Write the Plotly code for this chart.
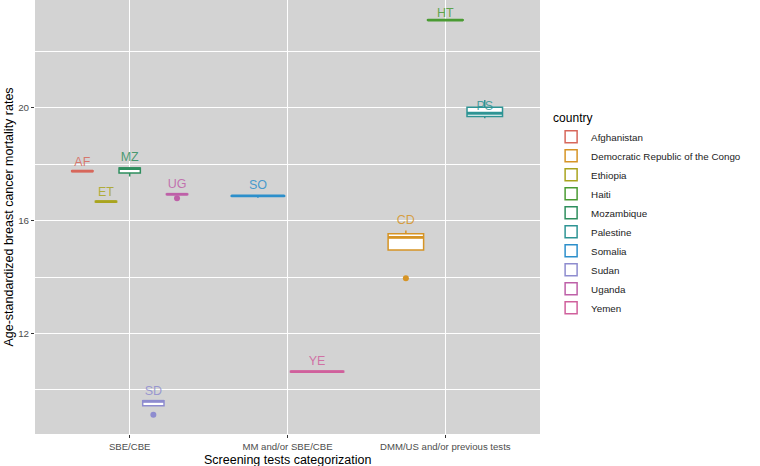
import plotly.graph_objects as go

# ---------------- data ----------------
categories = ["SBE/CBE", "MM and/or SBE/CBE", "DMM/US and/or previous tests"]

countries = ["Afghanistan", "Democratic Republic of the Congo", "Ethiopia", "Haiti",
             "Mozambique", "Palestine", "Somalia", "Sudan", "Uganda", "Yemen"]
codes = ["AF", "CD", "ET", "HT", "MZ", "PS", "SO", "SD", "UG", "YE"]
country_category = ["SBE/CBE", "DMM/US and/or previous tests", "SBE/CBE",
                    "DMM/US and/or previous tests", "SBE/CBE",
                    "DMM/US and/or previous tests", "MM and/or SBE/CBE", "SBE/CBE",
                    "SBE/CBE", "MM and/or SBE/CBE"]

lower_whisker = [17.73, 14.96, 16.65, 23.07, 17.56, 19.62, 16.81, 9.44, 16.92, 10.64]
q1_vals       = [17.74, 14.96, 16.66, 23.09, 17.68, 19.68, 16.86, 9.44, 16.92, 10.64]
median_vals   = [17.75, 15.40, 16.67, 23.10, 17.84, 19.80, 16.87, 9.60, 16.93, 10.65]
q3_vals       = [17.76, 15.53, 16.68, 23.11, 17.86, 20.01, 16.88, 9.62, 16.94, 10.66]
upper_whisker = [17.77, 15.65, 16.69, 23.13, 17.86, 20.27, 16.88, 9.62, 16.94, 10.66]
outliers      = [[], [13.96], [], [], [], [], [], [9.12], [16.79], []]
label_y       = [18.05, 15.99, 16.97, 23.32, 18.21, 20.04, 17.23, 9.94, 17.26, 11.01]

colors = ["#D7675B", "#D69425", "#A9A41E", "#4A9B33", "#2E8E5E",
          "#2E9494", "#2C8FCB", "#8E8CCF", "#BE60A8", "#D0609C"]

y_ticks = [12, 16, 20]

# ---------------- dodge positions (ggplot-like) ----------------
DODGE = 0.75
positions, widths = [], []
for i, c in enumerate(countries):
    cat = country_category[i]
    members = sorted([countries[j] for j in range(len(countries)) if country_category[j] == cat])
    n = len(members)
    rank = members.index(c)
    base = categories.index(cat) + 1
    slot = DODGE / n
    positions.append(base + (rank - (n - 1) / 2) * slot)
    widths.append(slot * 0.9)


def rgba(hex_color, a):
    h = hex_color.lstrip("#")
    r, g, b = int(h[0:2], 16), int(h[2:4], 16), int(h[4:6], 16)
    return f"rgba({r},{g},{b},{a})"


fig = go.Figure()
FONT = "Liberation Sans, Arial, sans-serif"

for i, c in enumerate(countries):
    fig.add_trace(go.Box(
        x=[positions[i]], q1=[q1_vals[i]], median=[median_vals[i]], q3=[q3_vals[i]],
        lowerfence=[lower_whisker[i]], upperfence=[upper_whisker[i]],
        width=widths[i], name=c, fillcolor="white",
        line=dict(color=colors[i], width=1.5), whiskerwidth=0,
        boxpoints=False, hoverinfo="skip",
    ))

for i, c in enumerate(countries):
    w = widths[i]
    fig.add_trace(go.Scatter(
        x=[positions[i] - w / 2, positions[i] + w / 2],
        y=[median_vals[i], median_vals[i]], mode="lines",
        line=dict(color=colors[i], width=2.8), showlegend=False, hoverinfo="skip"))
    if outliers[i]:
        fig.add_trace(go.Scatter(
            x=[positions[i]] * len(outliers[i]), y=outliers[i], mode="markers",
            marker=dict(color=colors[i], size=6), showlegend=False, hoverinfo="skip"))
    fig.add_trace(go.Scatter(
        x=[positions[i]], y=[label_y[i]], mode="text", text=[codes[i]],
        textposition="middle center",
        textfont=dict(color=rgba(colors[i], 0.85), size=12.5, family=FONT),
        showlegend=False, hoverinfo="skip"))

fig.update_layout(
    width=760, height=466,
    margin=dict(l=34.5, r=220, t=0, b=32, autoexpand=False),
    paper_bgcolor="white", plot_bgcolor="#D3D3D3",
    font=dict(family=FONT, color="#000000"),
    boxmode="overlay",
    showlegend=True,
    legend=dict(
        title=dict(text="country", font=dict(size=12, color="#000000")),
        font=dict(size=9.8, color="#222222"),
        x=1.022, xanchor="left", y=0.754, yanchor="top",
        bgcolor="rgba(0,0,0,0)", itemclick=False,
    ),
    xaxis=dict(
        range=[0.4, 3.6], tickmode="array",
        tickvals=[1, 2, 3], ticktext=categories, automargin=False,
        showgrid=True, gridcolor="white", gridwidth=1.2,
        zeroline=False, ticks="outside", ticklen=3, tickcolor="#333333",
        tickfont=dict(size=9.6, color="#4D4D4D"),
    ),
    yaxis=dict(
        range=[8.44, 23.81], tickmode="array", tickvals=y_ticks, automargin=False,
        showgrid=True, gridcolor="white", gridwidth=1.2,
        minor=dict(dtick=2, tick0=0, showgrid=True, gridcolor="white", gridwidth=0.6),
        zeroline=False, ticks="outside", ticklen=3, tickcolor="#333333",
        tickfont=dict(size=9.8, color="#4D4D4D"),
    ),
    annotations=[
        dict(text="Screening tests categorization", xref="paper", yref="paper",
             x=0.5, y=-0.059, xanchor="center", yanchor="middle", showarrow=False,
             font=dict(size=12.5, color="#000000")),
        dict(text="Age-standardized breast cancer mortality rates", xref="paper",
             yref="paper", x=-0.0524, y=0.5, xanchor="center", yanchor="middle",
             textangle=-90, showarrow=False, font=dict(size=12.5, color="#000000")),
    ],
)

fig.write_html("out.html", config={"displayModeBar": False},
               post_script="document.body.style.margin='0';document.body.style.overflow='hidden';")
